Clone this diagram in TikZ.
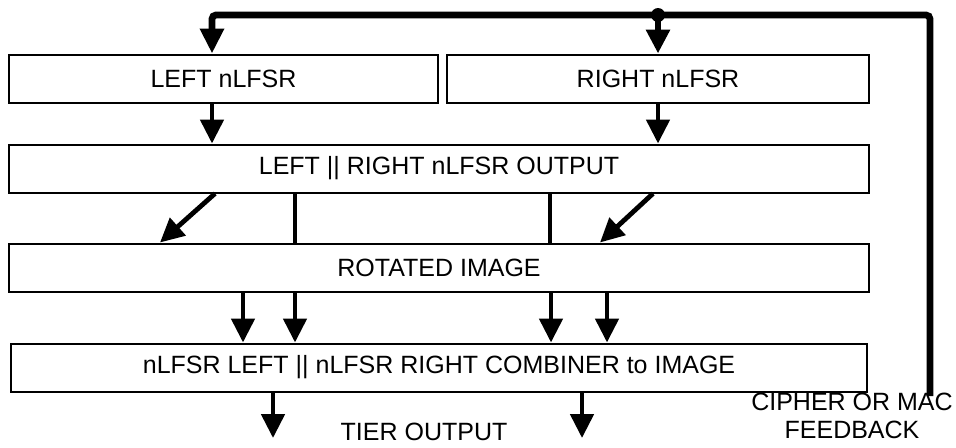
\documentclass[tikz,border=0pt]{standalone}
\usepackage{fontspec}
\setmainfont{Liberation Sans}
\usetikzlibrary{arrows.meta, positioning}

\begin{document}
\begin{tikzpicture}[
    x=0.5pt, y=0.5pt,
    block/.style={rectangle, draw, line width=1pt, minimum height=24pt, inner sep=0pt, font=\fontsize{12.5}{14}\selectfont},
    half/.style={block, minimum width=214.5pt},
    wide/.style={block, minimum width=430pt},
    arrow/.style={-{Triangle[length=12pt, width=11.5pt]}, line width=2.4pt},
    link/.style={line width=2.4pt},
    feed/.style={line width=3.4pt, rounded corners=2pt},
    note/.style={font=\fontsize{12.5}{14}\selectfont, align=center, inner sep=0pt}
  ]
  \useasboundingbox (0,0) rectangle (956,-447);

  % the four stages
  \node (left) [half] at (223.5,-78.5) {LEFT nLFSR};
  \node (right) [half, right=3.5pt of left, minimum width=211pt] {RIGHT nLFSR};
  \node (mid) [wide, below=20pt of left.south west, anchor=north west] {LEFT || RIGHT nLFSR OUTPUT};
  \node (rot) [wide, below=24.5pt of mid] {ROTATED IMAGE};
  \node (comb) [wide, below=25pt of rot, minimum width=428pt] {nLFSR LEFT || nLFSR RIGHT COMBINER to IMAGE};

  % feedback loop
  \coordinate (topl) at (212,-15);
  \coordinate (fbend) at (930,-396);
  \coordinate (junc) at (right.north |- topl);
  \draw[feed, -{Triangle[length=12.5pt, width=11.5pt]}] (fbend) |- (topl) -- (topl |- left.north);
  \fill (junc) circle (3.5pt);
  \draw[arrow, line width=3.4pt] (junc) -- (right.north);

  \draw[arrow] (topl |- left.south) -- (topl |- mid.north);
  \draw[arrow] (right.south) -- (right.south |- mid.north);

  \draw[arrow] (215,0 |- mid.south) -- (160,0 |- rot.north);
  \draw[arrow] (653,0 |- mid.south) -- (600,0 |- rot.north);
  \foreach \x in {295,550}
    \draw[link] (\x,0 |- mid.south) -- (\x,0 |- rot.north);

  \foreach \x in {243,295,551,607}
    \draw[arrow] (\x,0 |- rot.south) -- (\x,0 |- comb.north);

  % outputs
  \coordinate (outl) at (273,-438);
  \coordinate (outr) at (582,-438);
  \draw[arrow] (outl |- comb.south) -- (outl);
  \draw[arrow] (outr |- comb.south) -- (outr);

  \node (tier) [note] at (424,-432) {TIER OUTPUT};
  \node (fbtext) [note] at (852,-416) {CIPHER OR MAC\\FEEDBACK};
\end{tikzpicture}
\end{document}
